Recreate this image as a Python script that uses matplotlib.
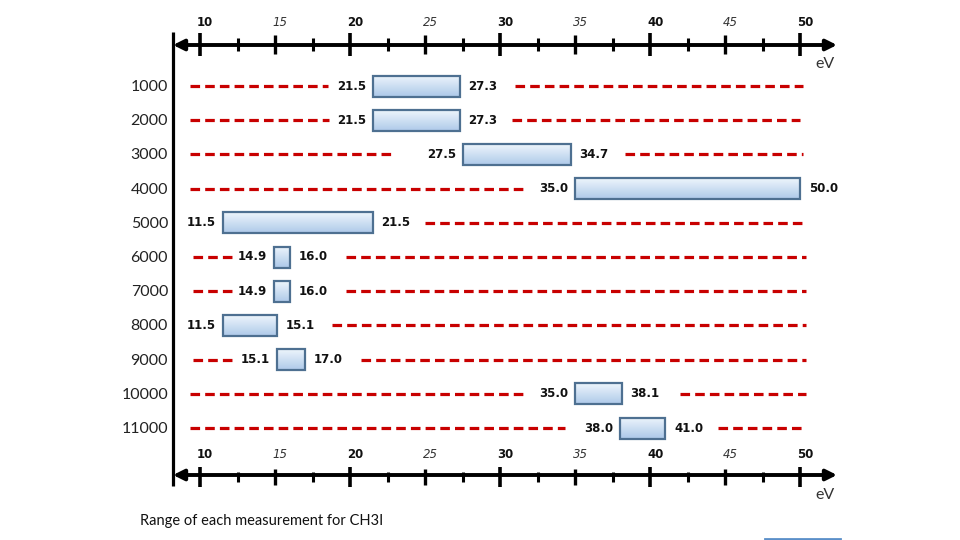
import matplotlib
matplotlib.use('Agg')
import matplotlib.pyplot as plt
import numpy as np
from matplotlib.colors import LinearSegmentedColormap

# Energy range of each measurement for CH3I
rows = ['1000', '2000', '3000', '4000', '5000', '6000',
        '7000', '8000', '9000', '10000', '11000']
range_start = [21.5, 21.5, 27.5, 35.0, 11.5, 14.9, 14.9, 11.5, 15.1, 35.0, 38.0]
range_end = [27.3, 27.3, 34.7, 50.0, 21.5, 16.0, 16.0, 15.1, 17.0, 38.1, 41.0]

# red guide dashes either side of each range (eV), None = no dashes
left_guide = [(9.3, 18.5), (9.3, 18.6), (9.3, 22.9), (9.3, 31.8), None,
              (9.5, 12.1), (9.5, 12.1), None, (9.5, 12.1), (9.3, 31.5), (9.3, 34.3)]
right_guide = [(31.0, 50.2), (30.8, 50.0), (38.3, 50.2), None, (25.0, 50.4),
               (19.7, 50.4), (19.7, 50.4), (18.8, 50.4), (20.7, 50.4), (42.0, 50.4),
               (44.5, 50.4)]

ticks_major = [10, 20, 30, 40, 50]
ticks_mid = [15, 25, 35, 45]
ticks_minor = [12.5, 17.5, 22.5, 27.5, 32.5, 37.5, 42.5, 47.5]

caption = 'Range of each measurement for CH3I'

# pixel -> data helpers (figure is 960x540, 10 eV at x=200, 15 px per eV)
def px_x(px):
    return 10 + (px - 200) / 15.0

def px_y(py):
    return (py - 86) / 34.2

def dy(d):
    return d / 34.2

fig = plt.figure(figsize=(9.6, 5.4), dpi=100)
ax = fig.add_axes([0, 0, 1, 1])
ax.axis('off')

bar_h = dy(21)
grad = np.linspace(0, 1, 64).reshape(-1, 1)
cmap = LinearSegmentedColormap.from_list('barfill', ['#eef5fc', '#aecae9'])
red = '#c80000'
dash = (0, (3.0, 1.6))

for i, name in enumerate(rows):
    y = i
    x0, x1 = range_start[i], range_end[i]
    ax.imshow(grad, cmap=cmap, aspect='auto', origin='upper',
              extent=(x0, x1, y + bar_h / 2, y - bar_h / 2), zorder=2)
    ax.barh(y, x1 - x0, left=x0, height=bar_h, fill=False,
            edgecolor='#4e7091', linewidth=1.6, zorder=3)
    ax.text(x0 - 0.45, y, '%.1f' % x0, ha='right', va='center',
            fontsize=8.5, fontweight='bold', family='DejaVu Sans', color='#111111')
    ax.text(x1 + 0.6, y, '%.1f' % x1, ha='left', va='center',
            fontsize=8.5, fontweight='bold', family='DejaVu Sans', color='#111111')
    ax.text(px_x(168), y + dy(1), name, ha='right', va='center',
            fontsize=11.5, family='Lato', color='#222222')
    for g in (left_guide[i], right_guide[i]):
        if g is not None:
            ax.plot(g, [y, y], color=red, lw=2.3, linestyle=dash,
                    solid_capstyle='butt', dash_capstyle='butt', zorder=1)

# vertical axis line
ax.plot([px_x(173), px_x(173)], [px_y(32), px_y(486)], color='black',
        lw=2.3, solid_capstyle='butt')

# top and bottom energy axes with arrowheads
for ay, up, down, lab_y, ev_y in [(45, 12, 11, 22, 64), (475, 8, 12, 455, 495)]:
    yy = px_y(ay)
    ax.annotate('', xy=(px_x(837), yy), xytext=(px_x(173), yy),
                arrowprops=dict(arrowstyle='<|-|>', lw=2.8, color='black',
                                mutation_scale=16, shrinkA=0, shrinkB=0))
    for t in ticks_major:
        ax.plot([t, t], [yy - dy(up), yy + dy(down)], color='black', lw=2.6,
                solid_capstyle='butt')
        ax.text(t + 0.35, px_y(lab_y), str(t), ha='center', va='center',
                fontsize=8.5, fontweight='bold', family='DejaVu Sans', color='#111111')
    for t in ticks_mid:
        ax.plot([t, t], [yy - dy(up - 2), yy + dy(down - 2)], color='black', lw=2.4,
                solid_capstyle='butt')
        ax.text(t + 0.35, px_y(lab_y), str(t), ha='center', va='center',
                fontsize=8.5, style='italic', family='DejaVu Sans', color='#333333')
    for t in ticks_minor:
        ax.plot([t, t], [yy - dy(up - 5), yy + dy(down - 5)], color='black', lw=2.2,
                solid_capstyle='butt')
    ax.text(px_x(825), px_y(ev_y), 'eV', ha='center', va='center',
            fontsize=11.5, family='Lato', color='#333333')

ax.text(px_x(140), px_y(521), caption, ha='left', va='center',
        fontsize=10.5, family='Lato', color='#111111')

# fragment of a blue rule at the bottom edge
ax.plot([px_x(765), px_x(840)], [px_y(538.5), px_y(538.5)], color='#5b8fc9', lw=2)

ax.set_xlim(px_x(0), px_x(960))
ax.set_ylim(px_y(540), px_y(0))

fig.savefig('out.png', dpi=100)
